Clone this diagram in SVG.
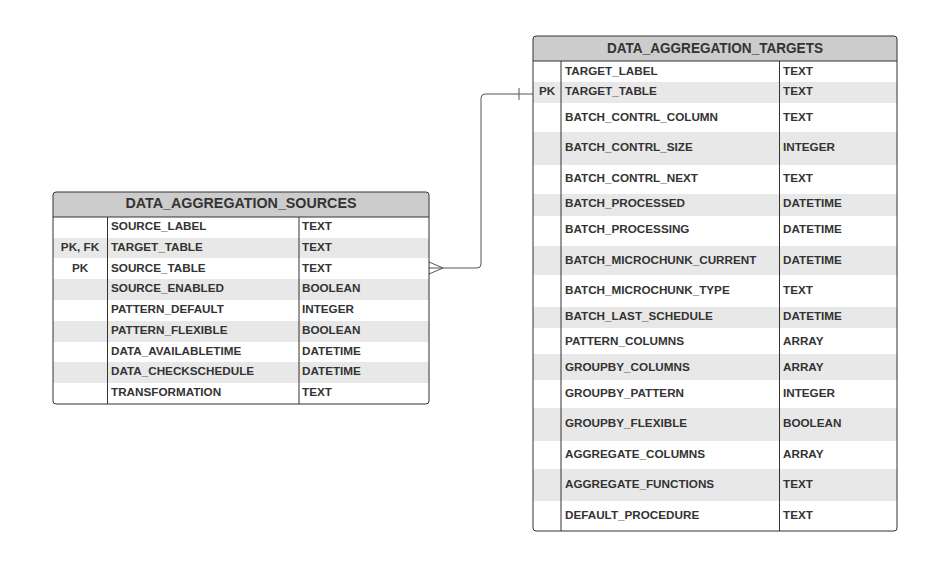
<svg xmlns="http://www.w3.org/2000/svg" width="950" height="565" viewBox="0 0 950 565">
<style>
.bg{fill:#ffffff}
.hd{fill:#cccccc}
.st{fill:#e8e8e8}
.ol{fill:none;stroke:#333333;stroke-width:1}
.dv{stroke:#333333;stroke-width:1}
.ht{font-family:"Liberation Sans",Arial,sans-serif;font-size:14px;font-weight:bold;fill:#333333;text-anchor:middle}
.t{font-family:"Liberation Sans",Arial,sans-serif;font-size:11.7px;font-weight:bold;fill:#333333}
.k{font-family:"Liberation Sans",Arial,sans-serif;font-size:11.7px;font-weight:bold;fill:#333333;text-anchor:middle}
.cn{fill:none;stroke:#555555;stroke-width:1}
</style>
<rect width="950" height="565" fill="#ffffff"/>
<g id="connectors">
<path class="cn" d="M429,268 H477 Q481,268 481,264 V98 Q481,94 485,94 H533"/>
<path class="cn" d="M429,262 L443,268 M429,274 L443,268"/>
<path class="cn" d="M519,88 V100"/>
</g>
<g id="data_aggregation_sources">
<rect class="bg" x="53" y="192" width="376" height="212" rx="3"/>
<path class="hd" d="M53,217 V195 Q53,192 56,192 H426 Q429,192 429,195 V217 Z"/>
<rect class="st" x="53" y="238" width="376" height="20"/>
<rect class="st" x="53" y="279" width="376" height="21"/>
<rect class="st" x="53" y="321" width="376" height="21"/>
<rect class="st" x="53" y="362" width="376" height="21"/>
<line class="dv" x1="53" y1="217" x2="429" y2="217"/>
<line class="dv" x1="107.5" y1="217" x2="107.5" y2="404"/>
<line class="dv" x1="299" y1="217" x2="299" y2="404"/>
<rect class="ol" x="53" y="192" width="376" height="212" rx="3"/>
<text class="ht" x="241" y="207.5" textLength="231" lengthAdjust="spacingAndGlyphs">DATA_AGGREGATION_SOURCES</text>
<text class="k" x="80" y="251">PK, FK</text>
<text class="k" x="80" y="272">PK</text>
<text class="t" x="111" y="230">SOURCE_LABEL</text>
<text class="t" x="111" y="251">TARGET_TABLE</text>
<text class="t" x="111" y="272">SOURCE_TABLE</text>
<text class="t" x="111" y="292">SOURCE_ENABLED</text>
<text class="t" x="111" y="313">PATTERN_DEFAULT</text>
<text class="t" x="111" y="334">PATTERN_FLEXIBLE</text>
<text class="t" x="111" y="355">DATA_AVAILABLETIME</text>
<text class="t" x="111" y="375">DATA_CHECKSCHEDULE</text>
<text class="t" x="111" y="396">TRANSFORMATION</text>
<text class="t" x="302" y="230">TEXT</text>
<text class="t" x="302" y="251">TEXT</text>
<text class="t" x="302" y="272">TEXT</text>
<text class="t" x="302" y="292">BOOLEAN</text>
<text class="t" x="302" y="313">INTEGER</text>
<text class="t" x="302" y="334">BOOLEAN</text>
<text class="t" x="302" y="355">DATETIME</text>
<text class="t" x="302" y="375">DATETIME</text>
<text class="t" x="302" y="396">TEXT</text>
</g>
<g id="data_aggregation_targets">
<rect class="bg" x="533" y="36" width="364" height="495" rx="3"/>
<path class="hd" d="M533,61 V39 Q533,36 536,36 H894 Q897,36 897,39 V61 Z"/>
<rect class="st" x="533" y="82" width="364" height="21"/>
<rect class="st" x="533" y="132" width="364" height="33"/>
<rect class="st" x="533" y="194" width="364" height="22"/>
<rect class="st" x="533" y="246" width="364" height="29"/>
<rect class="st" x="533" y="307" width="364" height="21"/>
<rect class="st" x="533" y="354" width="364" height="26"/>
<rect class="st" x="533" y="408" width="364" height="33"/>
<rect class="st" x="533" y="469" width="364" height="32"/>
<line class="dv" x1="533" y1="61" x2="897" y2="61"/>
<line class="dv" x1="561" y1="61" x2="561" y2="531"/>
<line class="dv" x1="779.5" y1="61" x2="779.5" y2="531"/>
<rect class="ol" x="533" y="36" width="364" height="495" rx="3"/>
<text class="ht" x="715" y="52.5" textLength="216" lengthAdjust="spacingAndGlyphs">DATA_AGGREGATION_TARGETS</text>
<text class="k" x="547" y="95">PK</text>
<text class="t" x="565" y="75">TARGET_LABEL</text>
<text class="t" x="565" y="95">TARGET_TABLE</text>
<text class="t" x="565" y="121">BATCH_CONTRL_COLUMN</text>
<text class="t" x="565" y="151">BATCH_CONTRL_SIZE</text>
<text class="t" x="565" y="182">BATCH_CONTRL_NEXT</text>
<text class="t" x="565" y="207">BATCH_PROCESSED</text>
<text class="t" x="565" y="233">BATCH_PROCESSING</text>
<text class="t" x="565" y="264">BATCH_MICROCHUNK_CURRENT</text>
<text class="t" x="565" y="294">BATCH_MICROCHUNK_TYPE</text>
<text class="t" x="565" y="320">BATCH_LAST_SCHEDULE</text>
<text class="t" x="565" y="345">PATTERN_COLUMNS</text>
<text class="t" x="565" y="371">GROUPBY_COLUMNS</text>
<text class="t" x="565" y="397">GROUPBY_PATTERN</text>
<text class="t" x="565" y="427">GROUPBY_FLEXIBLE</text>
<text class="t" x="565" y="458">AGGREGATE_COLUMNS</text>
<text class="t" x="565" y="488">AGGREGATE_FUNCTIONS</text>
<text class="t" x="565" y="519">DEFAULT_PROCEDURE</text>
<text class="t" x="783" y="75">TEXT</text>
<text class="t" x="783" y="95">TEXT</text>
<text class="t" x="783" y="121">TEXT</text>
<text class="t" x="783" y="151">INTEGER</text>
<text class="t" x="783" y="182">TEXT</text>
<text class="t" x="783" y="207">DATETIME</text>
<text class="t" x="783" y="233">DATETIME</text>
<text class="t" x="783" y="264">DATETIME</text>
<text class="t" x="783" y="294">TEXT</text>
<text class="t" x="783" y="320">DATETIME</text>
<text class="t" x="783" y="345">ARRAY</text>
<text class="t" x="783" y="371">ARRAY</text>
<text class="t" x="783" y="397">INTEGER</text>
<text class="t" x="783" y="427">BOOLEAN</text>
<text class="t" x="783" y="458">ARRAY</text>
<text class="t" x="783" y="488">TEXT</text>
<text class="t" x="783" y="519">TEXT</text>
</g>
</svg>
